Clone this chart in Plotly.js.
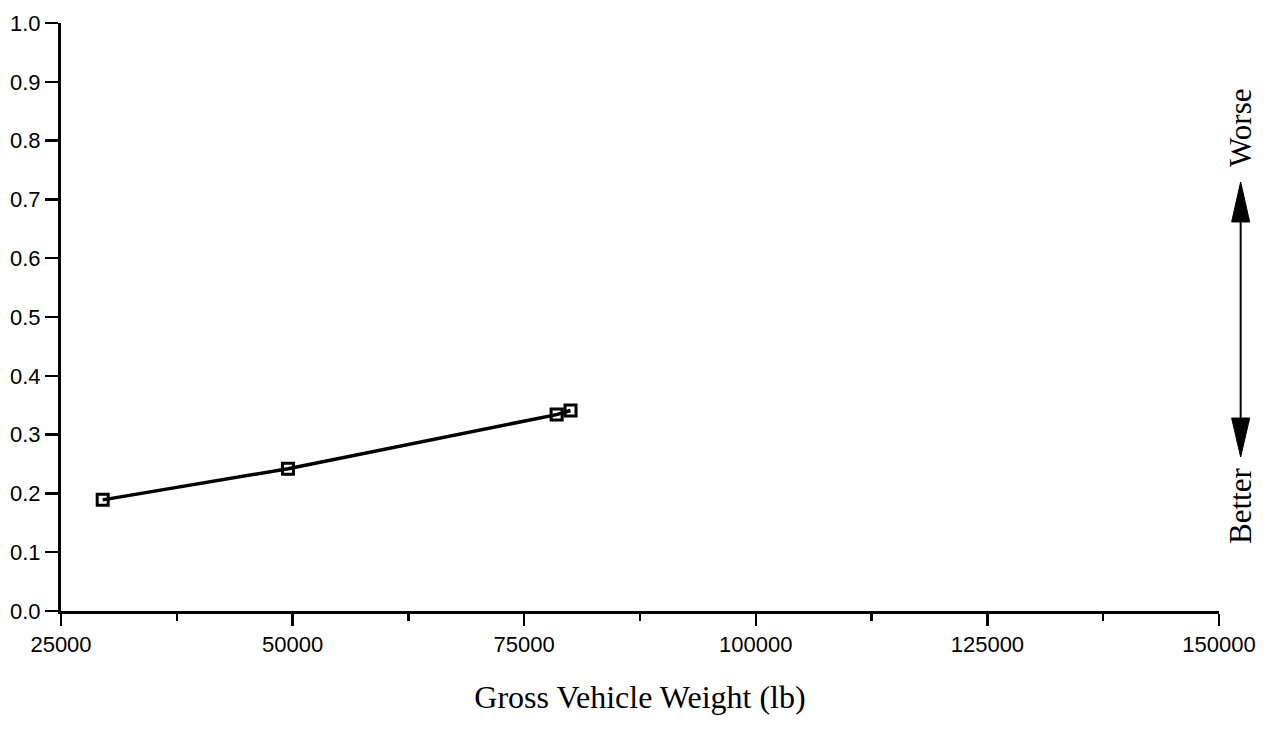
<!DOCTYPE html>
<html>
<head>
<meta charset="utf-8">
<script src="https://cdn.plot.ly/plotly-3.0.1.min.js"></script>
<style>
  html, body { margin: 0; padding: 0; background: #fff; }
  #chart { width: 1274px; height: 729px; }
</style>
</head>
<body>
<div id="chart"></div>
<script>
// Data
const grossVehicleWeight = [29500, 49500, 78500, 80000];
const indexValues = [0.189, 0.242, 0.334, 0.341];

const xTickValues = [25000, 50000, 75000, 100000, 125000, 150000];
const xTickLabels = ["25000", "50000", "75000", "100000", "125000", "150000"];
const yTickValues = [0.0, 0.1, 0.2, 0.3, 0.4, 0.5, 0.6, 0.7, 0.8, 0.9, 1.0];
const yTickLabels = ["0.0", "0.1", "0.2", "0.3", "0.4", "0.5", "0.6", "0.7", "0.8", "0.9", "1.0"];

const xTitle = "Gross Vehicle Weight (lb)";
const worseLabel = "Worse";
const betterLabel = "Better";

const tickFont = { family: "Liberation Sans, Arial, sans-serif", size: 22, color: "#000" };
const serifFont = { family: "Liberation Serif, Times New Roman, serif", size: 32, color: "#000" };

const trace = {
  x: grossVehicleWeight,
  y: indexValues,
  type: "scatter",
  mode: "lines+markers",
  line: { color: "#000", width: 3.5 },
  marker: { symbol: "square-open", size: 11, color: "#000", line: { color: "#000", width: 3 } },
  showlegend: false,
  hoverinfo: "skip"
};

// arrow geometry (paper coordinates)
const ax = 1.0187, hw = 0.0078;
const topTip = 0.7296, topBase = 0.6616, botBase = 0.3282, botTip = 0.2619;

const layout = {
  width: 1274,
  height: 729,
  paper_bgcolor: "#fff",
  plot_bgcolor: "#fff",
  margin: { l: 61, r: 55, t: 23, b: 118 },
  showlegend: false,
  xaxis: {
    range: [25000, 150000],
    tickvals: xTickValues,
    ticktext: xTickLabels,
    ticks: "outside",
    ticklen: 12,
    tickwidth: 2.5,
    tickcolor: "#000",
    showline: true,
    linecolor: "#000",
    linewidth: 3,
    showgrid: false,
    zeroline: false,
    tickfont: tickFont,
    minor: { dtick: 12500, tick0: 25000, ticks: "outside", ticklen: 7, tickwidth: 2.5, tickcolor: "#000", showgrid: false },
    title: { text: xTitle, font: serifFont, standoff: 30 },
    automargin: false,
    fixedrange: true
  },
  yaxis: {
    range: [0, 1],
    tickvals: yTickValues,
    ticktext: yTickLabels,
    ticks: "outside",
    ticklen: 13,
    tickwidth: 2.5,
    tickcolor: "#000",
    showline: true,
    linecolor: "#000",
    linewidth: 3,
    showgrid: false,
    zeroline: false,
    tickfont: tickFont,
    automargin: false,
    fixedrange: true
  },
  shapes: [
    { type: "line", xref: "paper", yref: "paper", x0: ax, x1: ax, y0: botBase, y1: topBase,
      line: { color: "#000", width: 2 } },
    { type: "path", xref: "paper", yref: "paper",
      path: `M ${ax} ${topTip} L ${ax - hw} ${topBase} L ${ax + hw} ${topBase} Z`,
      fillcolor: "#000", line: { color: "#000", width: 1 } },
    { type: "path", xref: "paper", yref: "paper",
      path: `M ${ax} ${botTip} L ${ax - hw} ${botBase} L ${ax + hw} ${botBase} Z`,
      fillcolor: "#000", line: { color: "#000", width: 1 } }
  ],
  annotations: [
    { text: worseLabel, xref: "paper", yref: "paper", x: 1.0187, y: 0.821, textangle: -90,
      showarrow: false, font: { family: serifFont.family, size: 31, color: "#000" }, xanchor: "center", yanchor: "middle" },
    { text: betterLabel, xref: "paper", yref: "paper", x: 1.0187, y: 0.178, textangle: -90,
      showarrow: false, font: { family: serifFont.family, size: 31, color: "#000" }, xanchor: "center", yanchor: "middle" }
  ]
};

Plotly.newPlot("chart", [trace], layout, { displayModeBar: false, staticPlot: true });
</script>
</body>
</html>
